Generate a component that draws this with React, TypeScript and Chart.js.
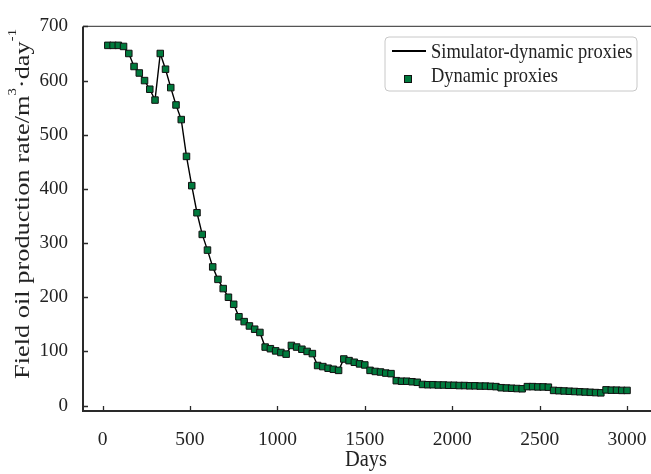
import React, { useEffect, useRef } from "react";
import { Chart, registerables } from "chart.js";
Chart.register(...registerables);

const days = [
  30, 60, 90, 120, 150, 180, 210, 240, 270, 300,
  330, 360, 390, 420, 450, 480, 510, 540, 570, 600,
  630, 660, 690, 720, 750, 780, 810, 840, 870, 900,
  930, 960, 990, 1020, 1050, 1080, 1110, 1140, 1170, 1200,
  1230, 1260, 1290, 1320, 1350, 1380, 1410, 1440, 1470, 1500,
  1530, 1560, 1590, 1620, 1650, 1680, 1710, 1740, 1770, 1800,
  1830, 1860, 1890, 1920, 1950, 1980, 2010, 2040, 2070, 2100,
  2130, 2160, 2190, 2220, 2250, 2280, 2310, 2340, 2370, 2400,
  2430, 2460, 2490, 2520, 2550, 2580, 2610, 2640, 2670, 2700,
  2730, 2760, 2790, 2820, 2850, 2880, 2910, 2940, 2970, 3000,
];

const simulatorRate = [
  665, 665, 665, 663, 650, 626, 614, 600, 584, 564,
  650, 621, 587, 555, 528, 460, 406, 356, 316, 287,
  256, 233, 216, 200, 187, 164, 155, 147, 141, 135,
  108, 105, 101, 98, 95, 111, 108, 104, 100, 96,
  74, 72, 69, 67, 65, 86, 83, 80, 77, 75,
  65, 63, 62, 60, 59, 46, 45, 45, 44, 43,
  39, 38.5, 38.5, 38, 38, 37.5, 37.5, 37, 37, 36.5,
  36.5, 36, 36, 35.5, 35, 33, 32.5, 32, 31.5, 31,
  35, 35, 34.5, 34.5, 34, 28, 27.5, 27, 26.5, 26,
  25.5, 25, 24.5, 24, 23.5, 29, 28.5, 28.5, 28, 28,
];

const proxyRate = [
  665, 665, 665, 663, 650, 626, 614, 600, 584, 564,
  650, 621, 587, 555, 528, 460, 406, 356, 316, 287,
  256, 233, 216, 200, 187, 164, 155, 147, 141, 135,
  108, 105, 101, 98, 95, 111, 108, 104, 100, 96,
  74, 72, 69, 67, 65, 86, 83, 80, 77, 75,
  65, 63, 62, 60, 59, 46, 45, 45, 44, 43,
  39, 38.5, 38.5, 38, 38, 37.5, 37.5, 37, 37, 36.5,
  36.5, 36, 36, 35.5, 35, 33, 32.5, 32, 31.5, 31,
  35, 35, 34.5, 34.5, 34, 28, 27.5, 27, 26.5, 26,
  25.5, 25, 24.5, 24, 23.5, 29, 28.5, 28.5, 28, 28,
];

const xTickValues = [0, 500, 1000, 1500, 2000, 2500, 3000];
const yTickValues = [0, 100, 200, 300, 400, 500, 600, 700];

const seriesNames = ["Simulator-dynamic proxies", "Dynamic proxies"];
const xTitle = "Days";
const yTitleParts = ["Field oil production rate/m", "3", "·day", "-1"];

const FONT = "'Liberation Serif', 'Times New Roman', serif";
const TEXT = "#222";
const GREEN = "#007a3d";
const STRETCH = 1.1;

const decorPlugin = {
  id: "decor",
  afterDraw(chart: any) {
    const ctx = chart.ctx as CanvasRenderingContext2D;
    const { left, right, top, bottom } = chart.chartArea;
    const xs = chart.scales.x;
    const ys = chart.scales.y;
    ctx.save();
    // frame
    ctx.strokeStyle = "#555";
    ctx.lineWidth = 1.2;
    ctx.beginPath();
    ctx.moveTo(left, top);
    ctx.lineTo(right, top);
    ctx.lineTo(right, bottom);
    ctx.stroke();
    ctx.strokeStyle = "#2a2a2a";
    ctx.lineWidth = 2;
    ctx.beginPath();
    ctx.moveTo(left, top);
    ctx.lineTo(left, bottom);
    ctx.lineTo(right, bottom);
    ctx.stroke();
    // inner ticks
    ctx.lineWidth = 1.3;
    ctx.beginPath();
    xTickValues.forEach((v) => {
      const px = Math.round(xs.getPixelForValue(v)) + 0.5;
      ctx.moveTo(px, bottom);
      ctx.lineTo(px, bottom - 5);
    });
    yTickValues.forEach((v) => {
      const py = Math.round(ys.getPixelForValue(v)) + 0.5;
      ctx.moveTo(left, py);
      ctx.lineTo(left + 5, py);
    });
    ctx.stroke();

    // x title
    ctx.save();
    ctx.fillStyle = TEXT;
    ctx.font = `20.5px ${FONT}`;
    ctx.textAlign = "center";
    ctx.textBaseline = "middle";
    ctx.translate(366, 460);
    ctx.scale(1, STRETCH);
    ctx.fillText(xTitle, 0, 0);
    ctx.restore();

    // y title with superscripts, stretched along its length
    ctx.save();
    ctx.fillStyle = TEXT;
    ctx.translate(22, 204);
    ctx.rotate(-Math.PI / 2);
    const big = `21.5px ${FONT}`;
    const small = `12px ${FONT}`;
    const widths = yTitleParts.map((t, i) => {
      ctx.font = i % 2 === 1 ? small : big;
      return ctx.measureText(t).width;
    });
    const natural = widths.reduce((a, b) => a + b, 0);
    const targetLen = 350;
    ctx.scale(targetLen / natural, 1);
    let cx = -natural / 2;
    ctx.textAlign = "left";
    ctx.textBaseline = "alphabetic";
    yTitleParts.forEach((t, i) => {
      const sup = i % 2 === 1;
      ctx.font = sup ? small : big;
      ctx.fillText(t, cx, sup ? -6 : 7);
      cx += widths[i];
    });
    ctx.restore();

    // legend
    const bx = 385, by = 37, bw = 252, bh = 54, r = 4;
    ctx.fillStyle = "#fff";
    ctx.strokeStyle = "#c8c8c8";
    ctx.lineWidth = 1;
    ctx.beginPath();
    ctx.moveTo(bx + r, by);
    ctx.lineTo(bx + bw - r, by);
    ctx.arcTo(bx + bw, by, bx + bw, by + r, r);
    ctx.lineTo(bx + bw, by + bh - r);
    ctx.arcTo(bx + bw, by + bh, bx + bw - r, by + bh, r);
    ctx.lineTo(bx + r, by + bh);
    ctx.arcTo(bx, by + bh, bx, by + bh - r, r);
    ctx.lineTo(bx, by + r);
    ctx.arcTo(bx, by, bx + r, by, r);
    ctx.closePath();
    ctx.fill();
    ctx.stroke();

    ctx.strokeStyle = "#000";
    ctx.lineWidth = 2;
    ctx.beginPath();
    ctx.moveTo(392, 51);
    ctx.lineTo(426, 51);
    ctx.stroke();

    ctx.fillStyle = GREEN;
    ctx.fillRect(404.5, 75.5, 7, 7);
    ctx.strokeStyle = "#111";
    ctx.lineWidth = 1;
    ctx.strokeRect(404.5, 75.5, 7, 7);

    ctx.fillStyle = TEXT;
    ctx.font = `18.5px ${FONT}`;
    ctx.textAlign = "left";
    ctx.textBaseline = "middle";
    ctx.save();
    ctx.translate(431, 53);
    ctx.scale(1, STRETCH);
    ctx.fillText(seriesNames[0], 0, 0);
    ctx.restore();
    ctx.save();
    ctx.translate(431, 77);
    ctx.scale(1, STRETCH);
    ctx.fillText(seriesNames[1], 0, 0);
    ctx.restore();
    ctx.restore();
  },
};

export default function App() {
  const canvasRef = useRef<HTMLCanvasElement | null>(null);

  useEffect(() => {
    const canvas = canvasRef.current;
    if (!canvas) return;
    const linePts = days.map((d, i) => ({ x: d, y: simulatorRate[i] }));
    const proxyPts = days.map((d, i) => ({ x: d, y: proxyRate[i] }));
    const chart = new Chart(canvas, {
      type: "line",
      data: {
        datasets: [
          {
            label: seriesNames[1],
            data: proxyPts,
            showLine: false,
            pointStyle: "rect",
            pointRadius: 4.6,
            pointBackgroundColor: GREEN,
            pointBorderColor: "#111",
            pointBorderWidth: 1,
            order: 1,
          },
          {
            label: seriesNames[0],
            data: linePts,
            borderColor: "#000",
            borderWidth: 1.4,
            pointRadius: 0,
            tension: 0,
            fill: false,
            order: 2,
          },
        ],
      },
      options: {
        responsive: false,
        animation: false,
        devicePixelRatio: 1,
        layout: { padding: { top: 18, right: 18, left: 0, bottom: 0 } },
        plugins: {
          legend: { display: false },
          tooltip: { enabled: false },
          title: { display: false },
        },
        scales: {
          x: {
            type: "linear",
            min: -112,
            max: 3200,
            grid: { display: false, drawTicks: false },
            border: { display: false },
            afterFit: (scale: any) => {
              scale.height = 63;
            },
            afterBuildTicks: (scale: any) => {
              scale.ticks = xTickValues.map((v) => ({ value: v }));
            },
            ticks: {
              padding: 17,
              color: TEXT,
              font: { family: FONT, size: 19.5 },
              maxRotation: 0,
              autoSkip: false,
              callback: (v: any) => String(v),
            },
          },
          y: {
            type: "linear",
            min: -10,
            max: 700,
            grid: { display: false, drawTicks: false },
            border: { display: false },
            afterFit: (scale: any) => {
              scale.width = 83;
            },
            afterBuildTicks: (scale: any) => {
              scale.ticks = yTickValues.map((v) => ({ value: v }));
            },
            ticks: {
              padding: 15,
              color: TEXT,
              font: { family: FONT, size: 19 },
              autoSkip: false,
              callback: (v: any) => String(v),
            },
          },
        },
      },
      plugins: [decorPlugin],
    });
    return () => chart.destroy();
  }, []);

  return (
    <div
      style={{
        position: "fixed",
        left: 0,
        top: 0,
        width: 651,
        height: 474,
        overflow: "hidden",
        background: "#fff",
      }}
    >
      <canvas
        ref={canvasRef}
        width={680}
        height={474}
        style={{ width: 680, height: 474, display: "block" }}
      />
    </div>
  );
}
